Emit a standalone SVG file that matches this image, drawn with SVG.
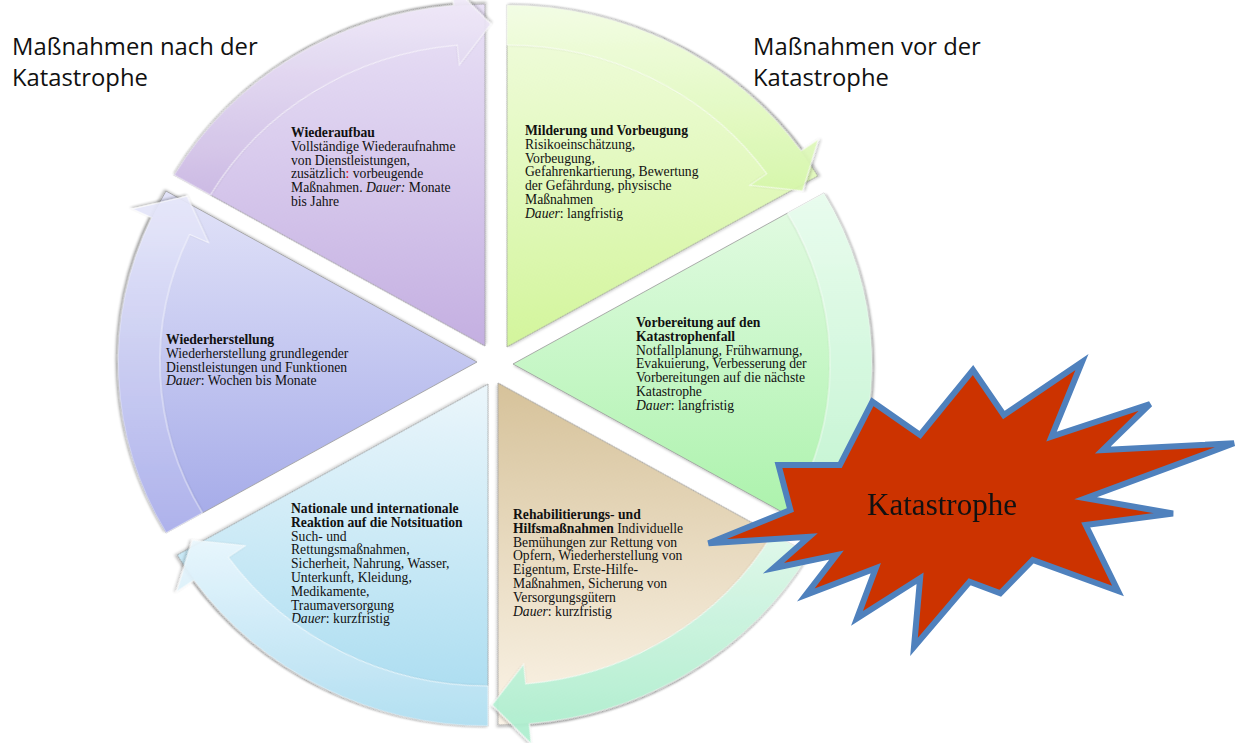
<svg xmlns="http://www.w3.org/2000/svg" width="1243" height="743" viewBox="0 0 1243 743">
<defs>
<style>
.wedge{stroke:#9c9c9c;stroke-width:0.8;filter:url(#sh)}
.arrow{stroke:#ffffff;stroke-opacity:0.7;stroke-width:1;filter:url(#sh)}
.t{font-family:"Liberation Serif","Times New Roman",serif;font-size:13.65px;fill:#111}
.b{font-weight:bold}
.i{font-style:italic}
.h{font-family:"Open Sans","Liberation Sans",sans-serif;font-size:23.8px;fill:#111}
.star{fill:#cc3300;stroke:#4f81bd;stroke-width:6;stroke-linejoin:miter}
.st{font-family:"Liberation Serif","Times New Roman",serif;font-size:31px;fill:#111}
</style>
<filter id="sh" x="-10%" y="-10%" width="120%" height="120%">
<feDropShadow dx="1.2" dy="1.5" stdDeviation="1.3" flood-color="#000" flood-opacity="0.28"/>
</filter>
<path id="wedgeShape" d="M0,0 L296.2,-171 A342,342 0 0 1 296.2,171 Z"/>
<path id="arrowShape" d="M296.2,-171 A342,342 0 0 1 310,144.5 L328.1,153 L276,165.8 L255.6,119.2 L273.7,127.6 A302,302 0 0 0 261.5,-151 Z"/>
<linearGradient id="gP" gradientUnits="userSpaceOnUse" x1="0" y1="4" x2="0" y2="346" gradientTransform="rotate(-240) scale(0.95238,1) translate(-485,-346)"><stop offset="0" stop-color="#e9e1f6"/><stop offset="1" stop-color="#c4afe1"/></linearGradient>
<linearGradient id="gG" gradientUnits="userSpaceOnUse" x1="0" y1="5" x2="0" y2="347" gradientTransform="rotate(-300) scale(0.95238,1) translate(-507,-347)"><stop offset="0" stop-color="#f1fcdf"/><stop offset="1" stop-color="#d3f59c"/></linearGradient>
<linearGradient id="gV" gradientUnits="userSpaceOnUse" x1="0" y1="193" x2="0" y2="535" gradientTransform="scale(0.95238,1) translate(-513,-364)"><stop offset="0" stop-color="#e4fbe4"/><stop offset="1" stop-color="#a9f2a9"/></linearGradient>
<linearGradient id="gT" gradientUnits="userSpaceOnUse" x1="0" y1="383" x2="0" y2="726" gradientTransform="rotate(-60) scale(0.95238,1) translate(-498,-383)"><stop offset="0" stop-color="#d6c29a"/><stop offset="1" stop-color="#fbf4e8"/></linearGradient>
<linearGradient id="gB" gradientUnits="userSpaceOnUse" x1="0" y1="384" x2="0" y2="726" gradientTransform="rotate(-120) scale(0.95238,1) translate(-488,-384)"><stop offset="0" stop-color="#ebf6fb"/><stop offset="1" stop-color="#a6dbf0"/></linearGradient>
<linearGradient id="gL" gradientUnits="userSpaceOnUse" x1="0" y1="191" x2="0" y2="533" gradientTransform="rotate(-180) scale(0.95238,1) translate(-477,-362)"><stop offset="0" stop-color="#e2e3f8"/><stop offset="1" stop-color="#a3a9e8"/></linearGradient>
<linearGradient id="aP" gradientUnits="userSpaceOnUse" x1="0" y1="0" x2="0" y2="200" gradientTransform="rotate(-240) scale(0.95238,1) translate(-485,-346)"><stop offset="0" stop-color="#efe9f8"/><stop offset="1" stop-color="#cbb9e3"/></linearGradient>
<linearGradient id="aG" gradientUnits="userSpaceOnUse" x1="0" y1="0" x2="0" y2="200" gradientTransform="rotate(-300) scale(0.95238,1) translate(-507,-347)"><stop offset="0" stop-color="#f4fde6"/><stop offset="1" stop-color="#d5f6a8"/></linearGradient>
<linearGradient id="aV" gradientUnits="userSpaceOnUse" x1="0" y1="190" x2="0" y2="540" gradientTransform="scale(0.95238,1) translate(-513,-364)"><stop offset="0" stop-color="#eafcef"/><stop offset="1" stop-color="#c3f4d3"/></linearGradient>
<linearGradient id="aT" gradientUnits="userSpaceOnUse" x1="0" y1="520" x2="0" y2="720" gradientTransform="rotate(-60) scale(0.95238,1) translate(-498,-383)"><stop offset="0" stop-color="#e3fbf0"/><stop offset="1" stop-color="#aeeecf"/></linearGradient>
<linearGradient id="aB" gradientUnits="userSpaceOnUse" x1="0" y1="530" x2="0" y2="730" gradientTransform="rotate(-120) scale(0.95238,1) translate(-488,-384)"><stop offset="0" stop-color="#edf8fd"/><stop offset="1" stop-color="#b3dff2"/></linearGradient>
<linearGradient id="aL" gradientUnits="userSpaceOnUse" x1="0" y1="190" x2="0" y2="540" gradientTransform="rotate(-180) scale(0.95238,1) translate(-477,-362)"><stop offset="0" stop-color="#e8e9fa"/><stop offset="1" stop-color="#aeb2eb"/></linearGradient>
</defs>
<rect width="1243" height="743" fill="#ffffff"/>

<g id="titles">
<text class="h" x="12" y="55">Maßnahmen nach der</text>
<text class="h" x="12" y="86">Katastrophe</text>
<text class="h" x="753" y="55">Maßnahmen vor der</text>
<text class="h" x="753" y="86">Katastrophe</text>
</g>

<g id="node-wiederaufbau">
<use href="#wedgeShape" class="wedge" fill="url(#gP)" transform="translate(485,346) scale(1.05,1) rotate(240)"/>
<text class="t" x="291" y="137"><tspan class="b">Wiederaufbau</tspan><tspan x="291" dy="13.8">Vollständige Wiederaufnahme</tspan><tspan x="291" dy="13.8">von Dienstleistungen,</tspan><tspan x="291" dy="13.8">zusätzlich<tspan fill="#e00000">:</tspan> vorbeugende</tspan><tspan x="291" dy="13.8">Maßnahmen. <tspan class="i">Dauer:</tspan> Monate</tspan><tspan x="291" dy="13.8">bis Jahre</tspan></text>
</g>

<g id="node-milderung">
<use href="#wedgeShape" class="wedge" fill="url(#gG)" transform="translate(507,347) scale(1.05,1) rotate(300)"/>
<text class="t" x="525" y="135"><tspan class="b">Milderung und Vorbeugung</tspan><tspan x="525" dy="13.8">Risikoeinschätzung,</tspan><tspan x="525" dy="13.8">Vorbeugung,</tspan><tspan x="525" dy="13.8">Gefahrenkartierung, Bewertung</tspan><tspan x="525" dy="13.8">der Gefährdung, physische</tspan><tspan x="525" dy="13.8">Maßnahmen</tspan><tspan x="525" dy="13.8"><tspan class="i">Dauer</tspan>: langfristig</tspan></text>
</g>

<g id="node-vorbereitung">
<use href="#wedgeShape" class="wedge" fill="url(#gV)" transform="translate(513,364) scale(1.05,1)"/>
<text class="t" x="636" y="327"><tspan class="b">Vorbereitung auf den</tspan><tspan x="636" dy="13.8" class="b">Katastrophenfall</tspan><tspan x="636" dy="13.8">Notfallplanung, Frühwarnung,</tspan><tspan x="636" dy="13.8">Evakuierung, Verbesserung der</tspan><tspan x="636" dy="13.8">Vorbereitungen auf die nächste</tspan><tspan x="636" dy="13.8">Katastrophe</tspan><tspan x="636" dy="13.8"><tspan class="i">Dauer</tspan>: langfristig</tspan></text>
</g>

<g id="node-rehabilitierung">
<use href="#wedgeShape" class="wedge" fill="url(#gT)" transform="translate(498,383) scale(1.05,1) rotate(60)"/>
<text class="t" x="513" y="519"><tspan class="b">Rehabilitierungs- und</tspan><tspan x="513" dy="13.8"><tspan class="b">Hilfsmaßnahmen</tspan> Individuelle</tspan><tspan x="513" dy="13.8">Bemühungen zur Rettung von</tspan><tspan x="513" dy="13.8">Opfern, Wiederherstellung von</tspan><tspan x="513" dy="13.8">Eigentum, Erste-Hilfe-</tspan><tspan x="513" dy="13.8">Maßnahmen, Sicherung von</tspan><tspan x="513" dy="13.8">Versorgungsgütern</tspan><tspan x="513" dy="13.8"><tspan class="i">Dauer</tspan>: kurzfristig</tspan></text>
</g>

<g id="node-reaktion">
<use href="#wedgeShape" class="wedge" fill="url(#gB)" transform="translate(488,384) scale(1.05,1) rotate(120)"/>
<text class="t" x="291" y="513"><tspan class="b">Nationale und internationale</tspan><tspan x="291" dy="13.8" class="b">Reaktion auf die Notsituation</tspan><tspan x="291" dy="13.8">Such- und</tspan><tspan x="291" dy="13.8">Rettungsmaßnahmen,</tspan><tspan x="291" dy="13.8">Sicherheit, Nahrung, Wasser,</tspan><tspan x="291" dy="13.8">Unterkunft, Kleidung,</tspan><tspan x="291" dy="13.8">Medikamente,</tspan><tspan x="291" dy="13.8">Traumaversorgung</tspan><tspan x="291" dy="13.8"><tspan class="i">Dauer</tspan>: kurzfristig</tspan></text>
</g>

<g id="node-wiederherstellung">
<use href="#wedgeShape" class="wedge" fill="url(#gL)" transform="translate(477,362) scale(1.05,1) rotate(180)"/>
<text class="t" x="166" y="344"><tspan class="b">Wiederherstellung</tspan><tspan x="166" dy="13.8">Wiederherstellung grundlegender</tspan><tspan x="166" dy="13.8">Dienstleistungen und Funktionen</tspan><tspan x="166" dy="13.8"><tspan class="i">Dauer</tspan>: Wochen bis Monate</tspan></text>
</g>

<g id="connectors" opacity="0.93">
<use href="#arrowShape" class="arrow" fill="url(#aV)" transform="translate(513,364) scale(1.05,1)"/>
<use href="#arrowShape" class="arrow" fill="url(#aG)" transform="translate(507,347) scale(1.05,1) rotate(300)"/>
<use href="#arrowShape" class="arrow" fill="url(#aP)" transform="translate(485,346) scale(1.05,1) rotate(240)"/>
<use href="#arrowShape" class="arrow" fill="url(#aL)" transform="translate(477,362) scale(1.05,1) rotate(180)"/>
<use href="#arrowShape" class="arrow" fill="url(#aB)" transform="translate(488,384) scale(1.05,1) rotate(120)"/>
<use href="#arrowShape" class="arrow" fill="url(#aT)" transform="translate(498,383) scale(1.05,1) rotate(60)"/>
</g>

<g id="node-katastrophe">
<polygon class="star" points="708.5,543.3 790.4,510 778.5,465 839.9,465 872.4,401.7 920.1,435 973,370 1003.8,415 1082,362 1051.5,436.7 1150,404 1102.7,450 1234,443.3 1085.7,498.3 1173,513.5 1085.7,525 1118,591 1032.8,560 1000.3,593.3 969.6,581.7 914,647 920.1,578.3 857,618.3 875.8,568.3 805.8,595 836.5,555 773.4,568.3 809.2,536.7"/>
<text class="st" x="942" y="515" text-anchor="middle">Katastrophe</text>
</g>
</svg>
